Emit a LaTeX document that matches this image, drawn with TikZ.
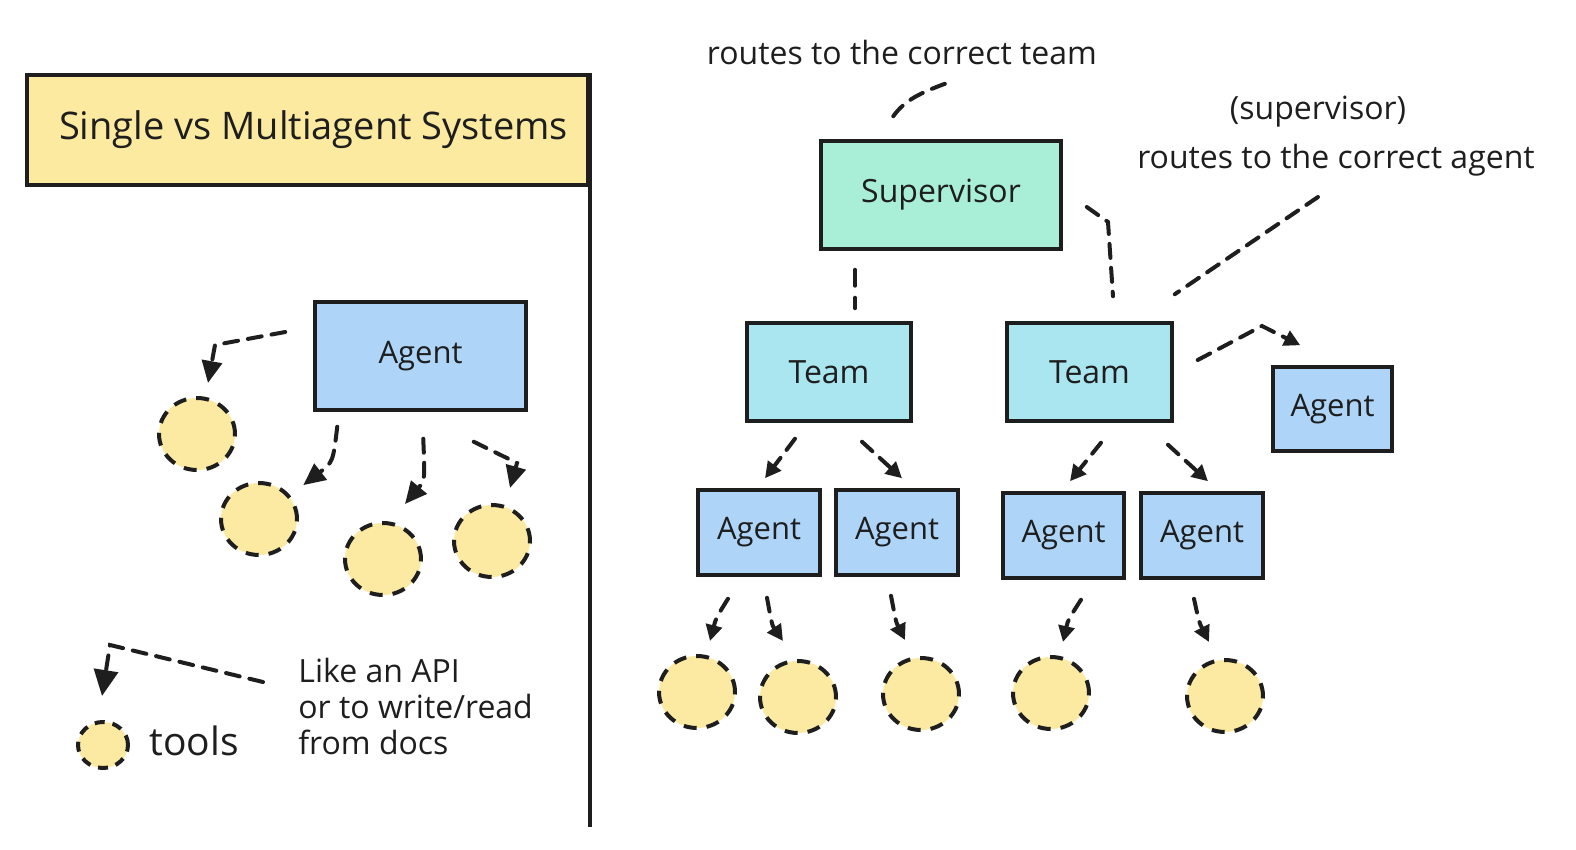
\documentclass[tikz,border=0pt]{standalone}
\usepackage{fontspec}
\setmainfont{Open Sans}
\usetikzlibrary{arrows.meta,shapes.geometric}
\definecolor{ttl}{HTML}{FCEAA0}
\definecolor{agentc}{HTML}{AED5F8}
\definecolor{supc}{HTML}{A9EFD8}
\definecolor{teamc}{HTML}{AAE6EF}
\definecolor{toolc}{HTML}{FCEAA2}
\definecolor{ink}{HTML}{1E1E1E}
\begin{document}
\begin{tikzpicture}[x=0.5pt,y=-0.5pt,
  box/.style={draw=ink, line width=1.75pt, inner sep=0pt, text=ink, font=\fontsize{15.5}{18}\selectfont},
  tool/.style={ellipse, draw=ink, fill=toolc, line width=2pt, dash pattern=on 6.5pt off 5pt, minimum width=38pt, minimum height=36pt, inner sep=0pt},
  conn/.style={draw=ink, line width=2pt, dash pattern=on 7pt off 5pt, line cap=round},
  tipS/.style={-{Triangle[length=8pt,width=8pt]}},
  tipL/.style={-{Triangle[length=11pt,width=10pt]}},
  tipXL/.style={-{Triangle[length=13pt,width=12pt]}},
  note/.style={text=ink, font=\fontsize{16}{18}\selectfont, inner sep=0pt}
]
\useasboundingbox (0,0) rectangle (1576,850);
\fill[white] (0,0) rectangle (1576,850);

% ---------- left: single agent ----------
\node[box, fill=ttl, minimum width=280.5pt, minimum height=55pt, font=\fontsize{19}{22}\selectfont] (title) at (307.5,130) {\hspace{6pt}Single vs Multiagent Systems};
\draw[draw=ink, line width=1.75pt] (title.north east) -- ([yshift=-320pt]title.south east) coordinate (divend);

\node[box, fill=agentc, minimum width=105.5pt, minimum height=54pt] (sag) at (420.5,356) {Agent};

\node[tool] (t1) at (197,434) {};
\node[tool] (t2) at (259,519) {};
\node[tool] (t3) at (383,559) {};
\node[tool] (t4) at (492,541) {};

\draw[conn, tipL] ([shift={(-28,-24)}]sag.west) -- (215,345) -- ([shift={(11,-13)}]t1.north);
\draw[conn, tipL] ([shift={(24,15)}]sag.south west) .. controls (333,462) .. ([shift={(16,-7)}]t2.north east);
\draw[conn, tipL] ([shift={(110,27)}]sag.south west) .. controls (425,480) .. ([shift={(22,-17)}]t3.north);
\draw[conn, tipL] ([shift={(-54,30)}]sag.south east) -- (517,463) -- ([shift={(18,-15)}]t4.north);

% legend
\node[tool, minimum width=25pt, minimum height=23pt, dash pattern=on 5pt off 4pt] (leg) at (103,745) {};
\node[text=ink, font=\fontsize{19.5}{22}\selectfont, anchor=west, inner sep=0pt] (legtools) at (149,741) {tools};
\node[note, anchor=west, align=left] (legtext) at (298,706) {Like an API\\or to write/read\\from docs};
\coordinate (legstart) at (263,682);
\draw[conn, tipXL] (legstart) -- (110,645) -- ([shift={(-1,-24)}]leg.north);

% ---------- right: multiagent ----------
\node[note] (lblteam) at (902,53) {routes to the correct team};
\node[note] (lblsup) at (1318,112) {(supervisor)};
\node[note] (lblagent) at (1336,160) {routes to the correct agent};

\node[box, fill=supc, minimum width=120pt, minimum height=54pt, font=\fontsize{16}{18}\selectfont] (sup) at (941,195) {Supervisor};
\node[box, fill=teamc, minimum width=82pt, minimum height=49pt, font=\fontsize{16}{18}\selectfont] (team1) at (829,372) {Team};
\node[box, fill=teamc, minimum width=82.5pt, minimum height=49pt, font=\fontsize{16}{18}\selectfont] (team2) at (1089.5,372) {Team};
\node[box, fill=agentc, minimum width=59.5pt, minimum height=42pt] (ra) at (1332.5,409) {Agent};
\node[box, fill=agentc, minimum width=61pt, minimum height=42.5pt] (a1) at (759,532.5) {Agent};
\node[box, fill=agentc, minimum width=61pt, minimum height=42.5pt] (a2) at (897,532.5) {Agent};
\node[box, fill=agentc, minimum width=60.5pt, minimum height=42.5pt] (a3) at (1063.5,535.5) {Agent};
\node[box, fill=agentc, minimum width=61pt, minimum height=42.5pt] (a4) at (1202,535.5) {Agent};

\node[tool] (r1) at (697,692) {};
\node[tool] (r2) at (798,697) {};
\node[tool] (r3) at (921,694) {};
\node[tool] (r4) at (1051,693) {};
\node[tool] (r5) at (1225,696) {};

% annotation lines
\coordinate (lblteamend) at (947,83);
\draw[conn] ([shift={(74,-23)}]sup.north west) .. controls (905,100) and (920,93) .. (lblteamend);
\coordinate (lblagentend) at (1318,197);
\draw[conn] (lblagentend) -- ([shift={(1,-27)}]team2.north east);

% supervisor to teams
\draw[conn, dash pattern=on 8pt off 6pt] ([shift={(-86,19)}]sup.south) -- ([shift={(26,-13)}]team1.north);
\draw[conn] ([shift={(24,12)}]sup.east) -- (1108,222) -- ([shift={(23.5,-25)}]team2.north);

% team2 to right agent
\draw[conn, tipS] ([shift={(24,-12)}]team2.east) -- (1262,326) -- ([shift={(29,-20)}]ra.north west);

% teams to agents
\draw[conn, tipS] ([shift={(-34,16)}]team1.south) -- ([shift={(6,-10)}]a1.north);
\draw[conn, tipS] ([shift={(33,19)}]team1.south) -- ([shift={(5,-10)}]a2.north);
\draw[conn, tipS] ([shift={(11.5,20)}]team2.south) -- ([shift={(6.5,-10)}]a3.north);
\draw[conn, tipS] ([shift={(78.5,22)}]team2.south) -- ([shift={(6,-10)}]a4.north);

% agents to tools
\draw[conn, tipS] ([shift={(-31,22)}]a1.south) .. controls (716,618) .. ([shift={(13,-13)}]r1.north);
\draw[conn, tipS] ([shift={(8,21)}]a1.south) .. controls (772,625) .. ([shift={(-15,-18)}]r2.north);
\draw[conn, tipS] ([shift={(-6,19)}]a2.south) .. controls (896,622) .. ([shift={(-16,-16)}]r3.north);
\draw[conn, tipS] ([shift={(17.5,20)}]a3.south) .. controls (1068,620) .. ([shift={(12,-13)}]r4.north);
\draw[conn, tipS] ([shift={(-8,19)}]a4.south) .. controls (1199,622) .. ([shift={(-16,-16)}]r5.north);
\end{tikzpicture}
\end{document}
